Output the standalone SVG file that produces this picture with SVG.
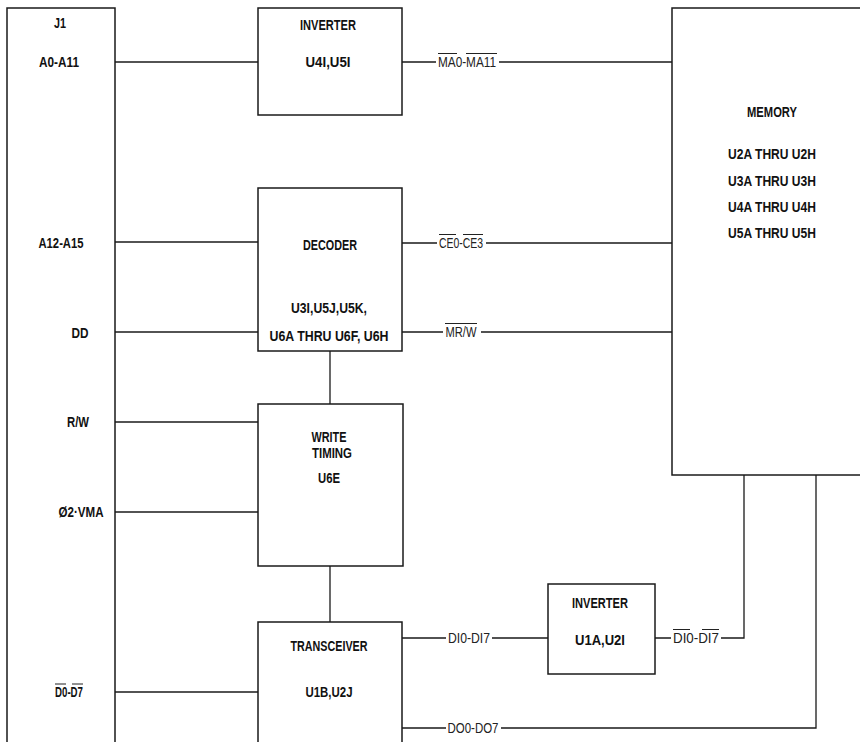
<svg xmlns="http://www.w3.org/2000/svg" width="860" height="742" viewBox="0 0 860 742">
<style>
.box{fill:none;stroke:#1a1a1a;stroke-width:1.5}
.ln{fill:none;stroke:#1a1a1a;stroke-width:1.3}
.ovl{fill:none;stroke:#222;stroke-width:1}
.t{font-family:"Liberation Sans",Arial,sans-serif;font-weight:bold;font-size:14px;fill:#111;text-anchor:middle;dominant-baseline:central}
.c{font-family:"Liberation Sans",Arial,sans-serif;font-size:14px;fill:#222;text-anchor:middle;dominant-baseline:central}
</style>
<rect width="860" height="742" fill="#fff"/>
<g id="j1">
<path class="box" d="M7,760 V8 H115 V760"/>
<text class="t" x="60" y="23" textLength="12" lengthAdjust="spacingAndGlyphs">J1</text>
<text class="t" x="59" y="62" textLength="40" lengthAdjust="spacingAndGlyphs">A0-A11</text>
<text class="t" x="61" y="243" textLength="45" lengthAdjust="spacingAndGlyphs">A12-A15</text>
<text class="t" x="80" y="333" textLength="17" lengthAdjust="spacingAndGlyphs">DD</text>
<text class="t" x="78" y="422" textLength="22" lengthAdjust="spacingAndGlyphs">R/W</text>
<text class="t" x="81" y="512" textLength="45" lengthAdjust="spacingAndGlyphs">Ø2·VMA</text>
<text class="t" x="69" y="692" textLength="28" lengthAdjust="spacingAndGlyphs">D0-D7</text>
<path class="ovl" d="M55,684 H66 M72,684 H83"/>
</g>
<g id="inverter1">
<rect class="box" x="258" y="8" width="144" height="107"/>
<text class="t" x="328" y="25" textLength="56" lengthAdjust="spacingAndGlyphs">INVERTER</text>
<text class="t" x="328" y="62" textLength="45" lengthAdjust="spacingAndGlyphs">U4I,U5I</text>
</g>
<g id="memory">
<rect class="box" x="672" y="8" width="200" height="467"/>
<text class="t" x="772" y="112" textLength="50" lengthAdjust="spacingAndGlyphs">MEMORY</text>
<text class="t" x="772" y="154" textLength="88" lengthAdjust="spacingAndGlyphs">U2A THRU U2H</text>
<text class="t" x="772" y="181" textLength="88" lengthAdjust="spacingAndGlyphs">U3A THRU U3H</text>
<text class="t" x="772" y="207" textLength="88" lengthAdjust="spacingAndGlyphs">U4A THRU U4H</text>
<text class="t" x="772" y="233" textLength="88" lengthAdjust="spacingAndGlyphs">U5A THRU U5H</text>
</g>
<g id="decoder">
<rect class="box" x="258" y="188" width="144" height="163"/>
<text class="t" x="330" y="245" textLength="54" lengthAdjust="spacingAndGlyphs">DECODER</text>
<text class="t" x="329" y="308" textLength="76" lengthAdjust="spacingAndGlyphs">U3I,U5J,U5K,</text>
<text class="t" x="329" y="336" textLength="119" lengthAdjust="spacingAndGlyphs">U6A THRU U6F, U6H</text>
</g>
<g id="write-timing">
<rect class="box" x="258" y="404" width="145" height="162"/>
<text class="t" x="329" y="437" textLength="35" lengthAdjust="spacingAndGlyphs">WRITE</text>
<text class="t" x="332" y="453" textLength="40" lengthAdjust="spacingAndGlyphs">TIMING</text>
<text class="t" x="329" y="478" textLength="22" lengthAdjust="spacingAndGlyphs">U6E</text>
</g>
<g id="transceiver">
<path class="box" d="M258,760 V622 H402 V760"/>
<text class="t" x="329" y="646" textLength="77" lengthAdjust="spacingAndGlyphs">TRANSCEIVER</text>
<text class="t" x="329" y="692" textLength="47" lengthAdjust="spacingAndGlyphs">U1B,U2J</text>
</g>
<g id="inverter2">
<rect class="box" x="548" y="584" width="107" height="90"/>
<text class="t" x="600" y="603" textLength="56" lengthAdjust="spacingAndGlyphs">INVERTER</text>
<text class="t" x="600" y="640" textLength="50" lengthAdjust="spacingAndGlyphs">U1A,U2I</text>
</g>
<g id="connectors">
<path class="ln" d="M115,62 H258"/>
<path class="ln" d="M402,62 H436 M499,62 H672"/>
<text class="c" x="467" y="62" textLength="58" lengthAdjust="spacingAndGlyphs">MA0-MA11</text>
<path class="ovl" d="M438,53.5 H457 M466,53.5 H497"/>
<path class="ln" d="M115,242 H258"/>
<path class="ln" d="M402,243 H437 M486,243 H672"/>
<text class="c" x="461" y="243" textLength="44" lengthAdjust="spacingAndGlyphs">CE0-CE3</text>
<path class="ovl" d="M439,234.5 H456 M463,234.5 H483"/>
<path class="ln" d="M115,332 H258"/>
<path class="ln" d="M402,332 H443 M481,332 H672"/>
<text class="c" x="461" y="332" textLength="31" lengthAdjust="spacingAndGlyphs">MR/W</text>
<path class="ovl" d="M445,323.5 H477"/>
<path class="ln" d="M330,351 V404"/>
<path class="ln" d="M115,422 H258"/>
<path class="ln" d="M115,512 H258"/>
<path class="ln" d="M330,566 V622"/>
<path class="ln" d="M115,692 H258"/>
<path class="ln" d="M402,638 H446 M492,638 H548"/>
<text class="c" x="469" y="638" textLength="42" lengthAdjust="spacingAndGlyphs">DI0-DI7</text>
<path class="ln" d="M655,638 H671 M721,638 H744 V475"/>
<text class="c" x="696" y="638" textLength="46" lengthAdjust="spacingAndGlyphs">DI0-DI7</text>
<path class="ovl" d="M673,629.5 H690 M702,629.5 H719"/>
<path class="ln" d="M402,728 H446 M501,728 H816 V475"/>
<text class="c" x="473" y="728" textLength="51" lengthAdjust="spacingAndGlyphs">DO0-DO7</text>
</g>
</svg>
